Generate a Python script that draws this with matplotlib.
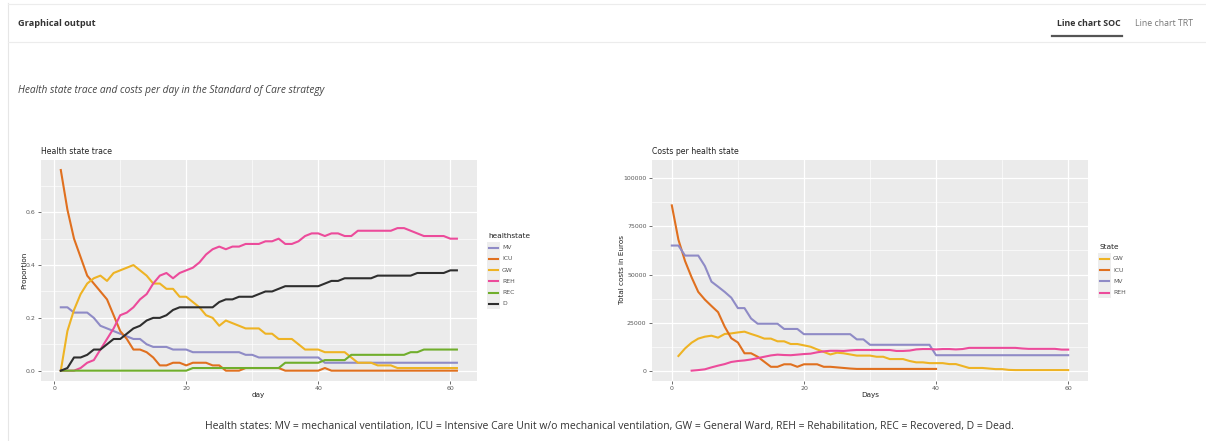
import matplotlib
matplotlib.use("Agg")
import matplotlib.pyplot as plt
from matplotlib.lines import Line2D
from matplotlib.patches import Rectangle

# ---- data: health state trace (proportion per day) ----
trace_days = list(range(1, 62))
trace_mv = [0.24, 0.24, 0.22, 0.22, 0.22, 0.20, 0.17, 0.16, 0.15, 0.14,
            0.13, 0.12, 0.12, 0.10, 0.09, 0.09, 0.09, 0.08, 0.08, 0.08,
            0.07, 0.07, 0.07, 0.07, 0.07, 0.07, 0.07, 0.07, 0.06, 0.06,
            0.05, 0.05, 0.05, 0.05, 0.05, 0.05, 0.05, 0.05, 0.05, 0.05,
            0.03, 0.03, 0.03, 0.03, 0.03, 0.03, 0.03, 0.03, 0.03, 0.03,
            0.03, 0.03, 0.03, 0.03, 0.03, 0.03, 0.03, 0.03, 0.03, 0.03, 0.03]
trace_icu = [0.76, 0.61, 0.50, 0.43, 0.36, 0.33, 0.30, 0.27, 0.21, 0.15,
             0.12, 0.08, 0.08, 0.07, 0.05, 0.02, 0.02, 0.03, 0.03, 0.02,
             0.03, 0.03, 0.03, 0.02, 0.02, 0.00, 0.00, 0.00, 0.01, 0.01,
             0.01, 0.01, 0.01, 0.01, 0.00, 0.00, 0.00, 0.00, 0.00, 0.00,
             0.01, 0.00, 0.00, 0.00, 0.00, 0.00, 0.00, 0.00, 0.00, 0.00,
             0.00, 0.00, 0.00, 0.00, 0.00, 0.00, 0.00, 0.00, 0.00, 0.00, 0.00]
trace_gw = [0.00, 0.15, 0.23, 0.29, 0.33, 0.35, 0.36, 0.34, 0.37, 0.38,
            0.39, 0.40, 0.38, 0.36, 0.33, 0.33, 0.31, 0.31, 0.28, 0.28,
            0.26, 0.24, 0.21, 0.20, 0.17, 0.19, 0.18, 0.17, 0.16, 0.16,
            0.16, 0.14, 0.14, 0.12, 0.12, 0.12, 0.10, 0.08, 0.08, 0.08,
            0.07, 0.07, 0.07, 0.07, 0.05, 0.03, 0.03, 0.03, 0.02, 0.02,
            0.02, 0.01, 0.01, 0.01, 0.01, 0.01, 0.01, 0.01, 0.01, 0.01, 0.01]
trace_reh = [0.00, 0.00, 0.00, 0.01, 0.03, 0.04, 0.08, 0.12, 0.16, 0.21,
             0.22, 0.24, 0.27, 0.29, 0.33, 0.36, 0.37, 0.35, 0.37, 0.38,
             0.39, 0.41, 0.44, 0.46, 0.47, 0.46, 0.47, 0.47, 0.48, 0.48,
             0.48, 0.49, 0.49, 0.50, 0.48, 0.48, 0.49, 0.51, 0.52, 0.52,
             0.51, 0.52, 0.52, 0.51, 0.51, 0.53, 0.53, 0.53, 0.53, 0.53,
             0.53, 0.54, 0.54, 0.53, 0.52, 0.51, 0.51, 0.51, 0.51, 0.50, 0.50]
trace_rec = [0.00] * 20 + [0.01] * 14 + [0.03] * 6 + [0.04] * 4 + \
            [0.06] * 9 + [0.07] * 2 + [0.08] * 6
trace_d = [0.00, 0.01, 0.05, 0.05, 0.06, 0.08, 0.08, 0.10, 0.12, 0.12,
           0.14, 0.16, 0.17, 0.19, 0.20, 0.20, 0.21, 0.23, 0.24, 0.24,
           0.24, 0.24, 0.24, 0.24, 0.26, 0.27, 0.27, 0.28, 0.28, 0.28,
           0.29, 0.30, 0.30, 0.31, 0.32, 0.32, 0.32, 0.32, 0.32, 0.32,
           0.33, 0.34, 0.34, 0.35, 0.35, 0.35, 0.35, 0.35, 0.36, 0.36,
           0.36, 0.36, 0.36, 0.36, 0.37, 0.37, 0.37, 0.37, 0.37, 0.38, 0.38]

# ---- data: costs per health state (euros) ----
cost_mv_days = list(range(0, 61))
cost_mv = [65000, 65000, 59800, 59800, 59800, 54400, 46300, 43700, 41000, 38000,
           32600, 32600, 27200, 24500, 24500, 24500, 24500, 21800, 21800, 21800,
           19100, 19100, 19100, 19100, 19100, 19100, 19100, 19100, 16400, 16400,
           13600, 13600, 13600, 13600, 13600, 13600, 13600, 13600, 13600, 13600,
           8200, 8200, 8200, 8200, 8200, 8200, 8200, 8200, 8200, 8200,
           8200, 8200, 8200, 8200, 8200, 8200, 8200, 8200, 8200, 8200, 8200]
cost_icu_days = list(range(0, 41))
cost_icu = [85800, 68000, 57000, 48500, 41000, 37000, 33700, 30500, 23000, 17000,
            14800, 9200, 9200, 7400, 4800, 2200, 2200, 3500, 3500, 2200,
            3500, 3500, 3500, 2200, 2200, 1900, 1600, 1300, 1100, 1100,
            1100, 1100, 1100, 1100, 1100, 1100, 1100, 1100, 1100, 1100, 1100]
cost_gw_days = list(range(1, 61))
cost_gw = [7800, 11700, 14700, 16800, 17800, 18300, 17300, 19200, 19500, 20000,
           20400, 19200, 18100, 16800, 16800, 15400, 15400, 14000, 14000, 13300,
           12600, 11200, 9900, 8600, 9500, 9200, 8600, 8000, 8000, 8000,
           7400, 7400, 6200, 6200, 6200, 5200, 4500, 4500, 4100, 4100,
           4100, 3600, 3600, 2600, 1600, 1600, 1600, 1300, 1000, 1000,
           600, 500, 500, 500, 500, 500, 500, 500, 500, 500]
cost_reh_days = list(range(3, 61))
cost_reh = [200, 500, 900, 1900, 2800, 3600, 4700, 5200, 5500, 6000,
            6700, 7400, 8100, 8500, 8300, 8200, 8500, 8800, 9000, 9700,
            10200, 10500, 10500, 10400, 10700, 10900, 10900, 10900, 10900, 10900,
            10900, 10400, 10400, 10600, 11200, 11400, 11400, 11200, 11400, 11400,
            11200, 11400, 12000, 12000, 12000, 12000, 12000, 12000, 12000, 12000,
            11700, 11500, 11500, 11500, 11500, 11500, 11100, 11100]

colors = {"MV": "#8f8bc6", "ICU": "#e0701f", "GW": "#eeb324",
          "REH": "#ec4b9b", "REC": "#70ae2c", "D": "#2e2e2e"}

W, H = 1206, 441
SANS = ["DejaVu Sans"]
PAGE = ["Open Sans", "DejaVu Sans"]


def fx(x):
    return x / W


def fy(y):
    return 1 - y / H


def style_panel(ax):
    ax.set_facecolor("#EBEBEB")
    for s in ax.spines.values():
        s.set_visible(False)
    ax.grid(which="major", color="white", lw=0.9)
    ax.grid(which="minor", color="white", lw=0.45)
    ax.set_axisbelow(True)
    ax.tick_params(which="major", length=2.5, width=0.5, color="#333333",
                   labelsize=4.5, labelcolor="#5a5a5a", pad=1.5)
    ax.tick_params(which="minor", length=0)


def legend(title, title_y, x0, rows_y, labels):
    fig.text(fx(x0 + 1), fy(title_y), title, family=SANS, fontsize=5.3,
             color="#222222", va="center", ha="left")
    top = rows_y[0] - 5.6
    bottom = rows_y[-1] + 5.6
    fig.add_artist(Rectangle((fx(x0), fy(bottom)), 12.5 / W, (bottom - top) / H,
                             transform=fig.transFigure, facecolor="#EDEDED",
                             edgecolor="none"))
    for y, lab in zip(rows_y, labels):
        fig.add_artist(Line2D([fx(x0 + 1.5), fx(x0 + 11)], [fy(y), fy(y)],
                              transform=fig.transFigure, color=colors[lab], lw=1.5))
        fig.text(fx(x0 + 15), fy(y), lab, family=SANS, fontsize=4.4,
                 color="#555555", va="center", ha="left")


fig = plt.figure(figsize=(W / 100, H / 100), dpi=100)
fig.patch.set_facecolor("white")

# page card
fig.add_artist(Line2D([fx(7.5), fx(7.5)], [fy(3), fy(441)], transform=fig.transFigure,
                      color="#e6e6e6", lw=0.8))
fig.add_artist(Line2D([fx(7.5), fx(1206)], [fy(3.5), fy(3.5)], transform=fig.transFigure,
                      color="#ececec", lw=0.8))
fig.add_artist(Line2D([fx(7.5), fx(1206)], [fy(42), fy(42)], transform=fig.transFigure,
                      color="#ececec", lw=0.8))
fig.text(fx(18), fy(23), "Graphical output", family=PAGE, fontsize=6.6,
         weight="bold", color="#333333", va="center")
fig.text(fx(1057), fy(23), "Line chart SOC", family=PAGE, fontsize=6.3,
         weight="bold", color="#333333", va="center")
fig.text(fx(1135), fy(23), "Line chart TRT", family=PAGE, fontsize=6.3,
         color="#777777", va="center")
fig.add_artist(Line2D([fx(1052), fx(1122)], [fy(36), fy(36)], transform=fig.transFigure,
                      color="#555555", lw=1.6))
fig.text(fx(18), fy(91), "Health state trace and costs per day in the Standard of Care strategy",
         family=PAGE, fontsize=7.3, style="italic", color="#444444", va="center")

# ---- left: health state trace ----
ax1 = fig.add_axes([fx(41), fy(380.7), (476.7 - 41) / W, (380.7 - 160) / H])
style_panel(ax1)
for lab, vals in [("MV", trace_mv), ("ICU", trace_icu), ("GW", trace_gw),
                  ("REH", trace_reh), ("REC", trace_rec), ("D", trace_d)]:
    ax1.plot(trace_days, vals, color=colors[lab], lw=1.5)
ax1.set_xlim(-2, 64)
ax1.set_ylim(-0.038, 0.798)
ax1.set_xticks([0, 20, 40, 60])
ax1.set_xticks([10, 30, 50], minor=True)
ax1.set_yticks([0, 0.2, 0.4, 0.6])
ax1.set_yticklabels(["0.0", "0.2", "0.4", "0.6"])
ax1.set_yticks([0.1, 0.3, 0.5, 0.7], minor=True)
fig.text(fx(41), fy(151), "Health state trace", family=SANS, fontsize=5.6,
         color="#222222", va="center")
fig.text(fx(258), fy(395), "day", family=SANS, fontsize=5.2, color="#222222",
         ha="center", va="center")
fig.text(fx(24), fy(270), "Proportion", family=SANS, fontsize=5.2, color="#222222",
         ha="center", va="center", rotation=90)
legend("healthstate", 236, 487, [247.7, 259, 270.2, 281.4, 292.6, 303.8],
       ["MV", "ICU", "GW", "REH", "REC", "D"])

# ---- right: costs per health state ----
ax2 = fig.add_axes([fx(652), fy(380.7), (1088 - 652) / W, (380.7 - 160) / H])
style_panel(ax2)
ax2.plot(cost_gw_days, cost_gw, color=colors["GW"], lw=1.5)
ax2.plot(cost_icu_days, cost_icu, color=colors["ICU"], lw=1.5)
ax2.plot(cost_mv_days, cost_mv, color=colors["MV"], lw=1.5)
ax2.plot(cost_reh_days, cost_reh, color=colors["REH"], lw=1.5)
ax2.set_xlim(-3, 63)
ax2.set_ylim(-5000, 109300)
ax2.set_xticks([0, 20, 40, 60])
ax2.set_xticks([10, 30, 50], minor=True)
ax2.set_yticks([0, 25000, 50000, 75000, 100000])
ax2.set_yticklabels(["0", "25000", "50000", "75000", "100000"])
ax2.set_yticks([12500, 37500, 62500, 87500], minor=True)
fig.text(fx(652), fy(151), "Costs per health state", family=SANS, fontsize=5.6,
         color="#222222", va="center")
fig.text(fx(870), fy(395), "Days", family=SANS, fontsize=5.2, color="#222222",
         ha="center", va="center")
fig.text(fx(622), fy(270), "Total costs in Euros", family=SANS, fontsize=5.2,
         color="#222222", ha="center", va="center", rotation=90)
legend("State", 247, 1098, [259, 270.2, 281.4, 292.6], ["GW", "ICU", "MV", "REH"])

fig.text(fx(609), fy(426),
         "Health states: MV = mechanical ventilation, ICU = Intensive Care Unit w/o mechanical "
         "ventilation, GW = General Ward, REH = Rehabilitation, REC = Recovered, D = Dead.",
         family=PAGE, fontsize=7.45, color="#333333", ha="center", va="center")

fig.savefig("out.png", dpi=100)
